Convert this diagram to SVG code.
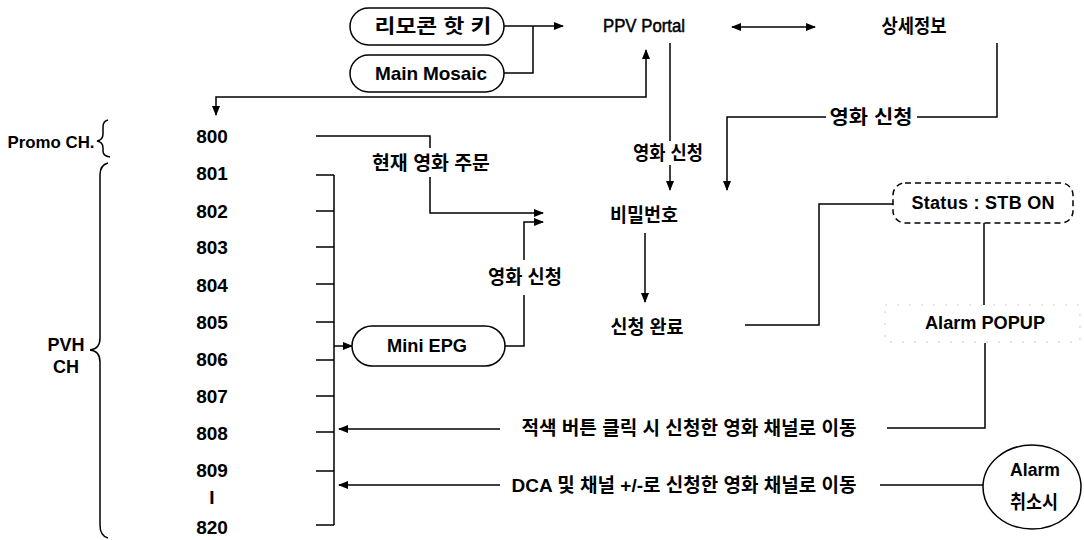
<svg xmlns="http://www.w3.org/2000/svg" width="1084" height="540" viewBox="0 0 1084 540">
<style>
text{font-family:"Liberation Sans","Noto Sans CJK KR",sans-serif;font-size:18px;font-weight:bold;fill:#000;text-anchor:middle;dominant-baseline:central}
text.k{font-size:19px}
#channels text{font-size:19px}
.ln{fill:none;stroke:#000;stroke-width:1.5}
.box{fill:#fff;stroke:#000;stroke-width:1.5}
.dash{fill:#fff;stroke:#000;stroke-width:1.5;stroke-dasharray:6 4}
.faint{fill:none;stroke:#cfcfcf;stroke-width:1;stroke-dasharray:2 10}
.arr{marker-end:url(#ah)}
.arr2{marker-start:url(#ah);marker-end:url(#ah)}
</style>
<defs>
<marker id="ah" markerUnits="userSpaceOnUse" markerWidth="10" markerHeight="10" viewBox="0 0 10 10" refX="9" refY="5" orient="auto-start-reverse">
<path d="M0,1 L10,5 L0,9 Z" fill="#000"/>
</marker>
</defs>
<rect width="1084" height="540" fill="#fff"/>

<g id="connectors">
<path class="ln arr" d="M504,26 H563"/>
<path class="ln" d="M504,73 H533 V26"/>
<path class="ln arr2" d="M216,115 V97 H646 V50"/>
<path class="ln" d="M670,43 V141"/>
<path class="ln arr" d="M670,165 V190"/>
<path class="ln arr2" d="M732,27 H815"/>
<path class="ln" d="M997,43 V117 H917"/>
<path class="ln arr" d="M826,117 H727 V190"/>
<path class="ln" d="M316,136 H430 V148"/>
<path class="ln arr" d="M430,177 V213 H543"/>
<path class="ln" d="M505,346 H524 V295"/>
<path class="ln arr" d="M524,260 V222 H543"/>
<path class="ln arr" d="M645,233 V302"/>
<path class="ln" d="M745,325 H819 V204 H893"/>
<path class="ln" d="M984,223 V305"/>
<path class="ln" d="M985,343 V428 H887"/>
<path class="ln arr" d="M500,429 H339"/>
<path class="ln arr" d="M500,485 H339"/>
<path class="ln" d="M880,485 H983"/>
<path class="ln" d="M334,175 V525 M316,175 H334 M316,211 H334 M316,247 H334 M316,284 H334 M316,322 H334 M316,360 H334 M316,396 H334 M316,432 H334 M316,471 H334 M316,525 H334"/>
<path class="ln arr" d="M334,346 H352"/>
<path class="ln" d="M108,120 Q103,121 103,127 V134 Q103,140 97,141 Q103,142 103,148 V151 Q103,156 110,157"/>
<path class="ln" d="M108,163 Q100,165 100,175 V338 Q100,349 90,350 Q100,351 100,362 V525 Q100,536 108,538"/>
</g>

<g id="n-remote"><rect class="box" x="350" y="8" width="154" height="37" rx="18.5"/><text class="k" x="433" y="26" textLength="117" lengthAdjust="spacingAndGlyphs">리모콘 핫 키</text></g>
<g id="n-mosaic"><rect class="box" x="350" y="55" width="154" height="37" rx="18.5"/><text x="431" y="73" style="font-size:19px" textLength="112">Main Mosaic</text></g>
<g id="n-ppv"><text x="644" y="26" style="font-size:18px;font-weight:normal;stroke:#000;stroke-width:0.5" textLength="82" lengthAdjust="spacingAndGlyphs">PPV Portal</text></g>
<g id="n-detail"><text class="k" x="914" y="26" textLength="65" lengthAdjust="spacingAndGlyphs">상세정보</text></g>
<g id="l-apply1"><text class="k" x="871" y="117" textLength="83" lengthAdjust="spacingAndGlyphs">영화 신청</text></g>
<g id="l-apply2"><text class="k" x="668" y="153" textLength="70" lengthAdjust="spacingAndGlyphs">영화 신청</text></g>
<g id="l-order"><text class="k" x="431" y="163" textLength="118" lengthAdjust="spacingAndGlyphs">현재 영화 주문</text></g>
<g id="l-apply3"><text class="k" x="525" y="277" textLength="74" lengthAdjust="spacingAndGlyphs">영화 신청</text></g>
<g id="n-pw"><text class="k" x="644" y="215" textLength="68" lengthAdjust="spacingAndGlyphs">비밀번호</text></g>
<g id="n-done"><text class="k" x="647" y="327" textLength="73" lengthAdjust="spacingAndGlyphs">신청 완료</text></g>
<g id="n-epg"><rect class="box" x="352" y="326" width="153" height="40" rx="20"/><text x="427" y="346" textLength="80" lengthAdjust="spacingAndGlyphs">Mini EPG</text></g>
<g id="n-status"><rect class="dash" x="893" y="183" width="180" height="40" rx="12"/><text x="983" y="203" textLength="143">Status : STB ON</text></g>
<g id="n-popup"><rect class="faint" x="885" y="305" width="195" height="37"/><text x="985" y="323" textLength="120" lengthAdjust="spacingAndGlyphs">Alarm POPUP</text></g>
<g id="l-red"><text class="k" x="689" y="428" textLength="335" lengthAdjust="spacingAndGlyphs">적색 버튼 클릭 시 신청한 영화 채널로 이동</text></g>
<g id="l-dca"><text class="k" x="684" y="485" textLength="345" lengthAdjust="spacingAndGlyphs">DCA 및 채널 +/-로 신청한 영화 채널로 이동</text></g>
<g id="n-cancel"><ellipse class="box" cx="1032" cy="487" rx="49" ry="42"/><text x="1035" y="470" textLength="50" lengthAdjust="spacingAndGlyphs">Alarm</text><text class="k" x="1034" y="502" textLength="48" lengthAdjust="spacingAndGlyphs">취소시</text></g>
<g id="n-promo"><text x="51" y="142" style="font-size:17px" textLength="87" lengthAdjust="spacingAndGlyphs">Promo CH.</text></g>
<g id="n-pvh"><text x="66" y="345">PVH</text><text x="66" y="367">CH</text></g>
<g id="channels">
<text x="212" y="136">800</text>
<text x="212" y="173">801</text>
<text x="212" y="211">802</text>
<text x="212" y="247">803</text>
<text x="212" y="285">804</text>
<text x="212" y="322">805</text>
<text x="212" y="359">806</text>
<text x="212" y="396">807</text>
<text x="212" y="433">808</text>
<text x="212" y="470">809</text>
<text x="212" y="497">I</text>
<text x="212" y="527">820</text>
</g>
</svg>
